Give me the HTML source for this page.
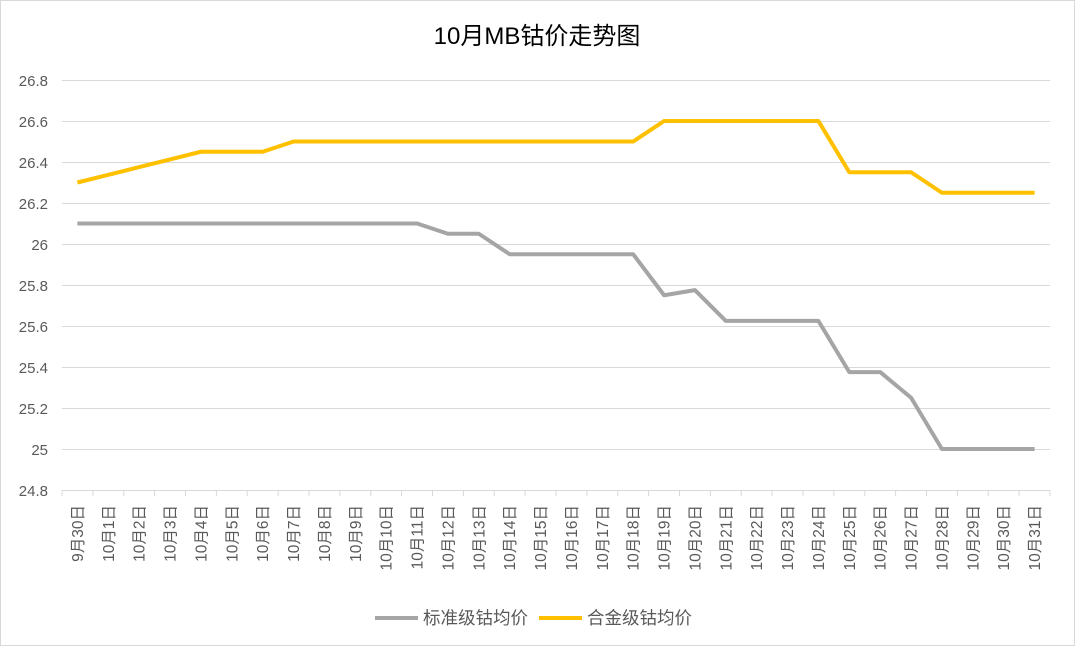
<!DOCTYPE html><html><head><meta charset="utf-8"><style>body{margin:0;background:#fff}svg{display:block;font-family:"Liberation Sans","Noto Sans CJK SC",sans-serif}</style></head><body>
<svg width="1075" height="646" viewBox="0 0 1075 646">
<rect x="0.5" y="0.5" width="1074" height="645" fill="#fff" stroke="#d9d9d9"/>
<text x="537" y="44" font-size="24" text-anchor="middle" fill="#000">10月MB钴价走势图</text>
<g stroke="#d9d9d9" stroke-width="1">
<line x1="62" x2="1050" y1="80.5" y2="80.5"/><line x1="62" x2="1050" y1="121.5" y2="121.5"/><line x1="62" x2="1050" y1="162.5" y2="162.5"/><line x1="62" x2="1050" y1="203.5" y2="203.5"/><line x1="62" x2="1050" y1="244.5" y2="244.5"/><line x1="62" x2="1050" y1="285.5" y2="285.5"/><line x1="62" x2="1050" y1="326.5" y2="326.5"/><line x1="62" x2="1050" y1="367.5" y2="367.5"/><line x1="62" x2="1050" y1="408.5" y2="408.5"/><line x1="62" x2="1050" y1="449.5" y2="449.5"/><line x1="62" x2="1050" y1="490.5" y2="490.5"/>
</g>
<g stroke="#d9d9d9"><path d="M62,490v6M92.9,490v6M123.8,490v6M154.6,490v6M185.5,490v6M216.4,490v6M247.2,490v6M278.1,490v6M309,490v6M339.9,490v6M370.8,490v6M401.6,490v6M432.5,490v6M463.4,490v6M494.2,490v6M525.1,490v6M556,490v6M586.9,490v6M617.8,490v6M648.6,490v6M679.5,490v6M710.4,490v6M741.2,490v6M772.1,490v6M803,490v6M833.9,490v6M864.8,490v6M895.6,490v6M926.5,490v6M957.4,490v6M988.2,490v6M1019.1,490v6M1050,490v6"/></g>
<g font-size="15" fill="#595959" text-anchor="end">
<text x="48" y="86">26.8</text><text x="48" y="127">26.6</text><text x="48" y="168">26.4</text><text x="48" y="209">26.2</text><text x="48" y="250">26</text><text x="48" y="291">25.8</text><text x="48" y="332">25.6</text><text x="48" y="373">25.4</text><text x="48" y="414">25.2</text><text x="48" y="455">25</text><text x="48" y="496">24.8</text>
</g>
<polyline fill="none" stroke="#a5a5a5" stroke-width="4" stroke-linejoin="round" points="77.4,223.5 108.3,223.5 139.2,223.5 170.1,223.5 200.9,223.5 231.8,223.5 262.7,223.5 293.6,223.5 324.4,223.5 355.3,223.5 386.2,223.5 417.1,223.5 447.9,233.75 478.8,233.75 509.7,254.25 540.6,254.25 571.4,254.25 602.3,254.25 633.2,254.25 664.1,295.25 694.9,290.1 725.8,320.9 756.7,320.9 787.6,320.9 818.4,320.9 849.3,372.1 880.2,372.1 911.1,397.75 941.9,449 972.8,449 1003.7,449 1034.6,449"/>
<polyline fill="none" stroke="#ffc000" stroke-width="4" stroke-linejoin="round" points="77.4,182.5 108.3,174.8 139.2,167.1 170.1,159.4 200.9,151.75 231.8,151.75 262.7,151.75 293.6,141.5 324.4,141.5 355.3,141.5 386.2,141.5 417.1,141.5 447.9,141.5 478.8,141.5 509.7,141.5 540.6,141.5 571.4,141.5 602.3,141.5 633.2,141.5 664.1,121 694.9,121 725.8,121 756.7,121 787.6,121 818.4,121 849.3,172.25 880.2,172.25 911.1,172.25 941.9,192.75 972.8,192.75 1003.7,192.75 1034.6,192.75"/>
<g font-size="15.5" fill="#595959" text-anchor="end">
<text transform="translate(82.9,505) rotate(-90)">9月30日</text>
<text transform="translate(113.8,505) rotate(-90)">10月1日</text>
<text transform="translate(144.7,505) rotate(-90)">10月2日</text>
<text transform="translate(175.6,505) rotate(-90)">10月3日</text>
<text transform="translate(206.4,505) rotate(-90)">10月4日</text>
<text transform="translate(237.3,505) rotate(-90)">10月5日</text>
<text transform="translate(268.2,505) rotate(-90)">10月6日</text>
<text transform="translate(299.1,505) rotate(-90)">10月7日</text>
<text transform="translate(329.9,505) rotate(-90)">10月8日</text>
<text transform="translate(360.8,505) rotate(-90)">10月9日</text>
<text transform="translate(391.7,505) rotate(-90)">10月10日</text>
<text transform="translate(422.6,505) rotate(-90)">10月11日</text>
<text transform="translate(453.4,505) rotate(-90)">10月12日</text>
<text transform="translate(484.3,505) rotate(-90)">10月13日</text>
<text transform="translate(515.2,505) rotate(-90)">10月14日</text>
<text transform="translate(546.1,505) rotate(-90)">10月15日</text>
<text transform="translate(576.9,505) rotate(-90)">10月16日</text>
<text transform="translate(607.8,505) rotate(-90)">10月17日</text>
<text transform="translate(638.7,505) rotate(-90)">10月18日</text>
<text transform="translate(669.6,505) rotate(-90)">10月19日</text>
<text transform="translate(700.4,505) rotate(-90)">10月20日</text>
<text transform="translate(731.3,505) rotate(-90)">10月21日</text>
<text transform="translate(762.2,505) rotate(-90)">10月22日</text>
<text transform="translate(793.1,505) rotate(-90)">10月23日</text>
<text transform="translate(823.9,505) rotate(-90)">10月24日</text>
<text transform="translate(854.8,505) rotate(-90)">10月25日</text>
<text transform="translate(885.7,505) rotate(-90)">10月26日</text>
<text transform="translate(916.6,505) rotate(-90)">10月27日</text>
<text transform="translate(947.4,505) rotate(-90)">10月28日</text>
<text transform="translate(978.3,505) rotate(-90)">10月29日</text>
<text transform="translate(1009.2,505) rotate(-90)">10月30日</text>
<text transform="translate(1040.1,505) rotate(-90)">10月31日</text>
</g>
<line x1="375" x2="418" y1="618" y2="618" stroke="#a5a5a5" stroke-width="4"/>
<text x="423" y="624" font-size="17.5" fill="#595959">标准级钴均价</text>
<line x1="539" x2="582" y1="618" y2="618" stroke="#ffc000" stroke-width="4"/>
<text x="587" y="624" font-size="17.5" fill="#595959">合金级钴均价</text>
</svg></body></html>
